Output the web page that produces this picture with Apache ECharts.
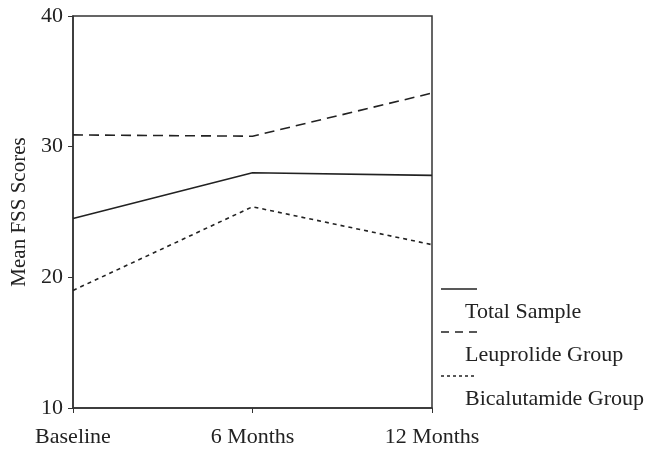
<!DOCTYPE html>
<html><head><meta charset="utf-8">
<script src="https://cdn.jsdelivr.net/npm/echarts@6/dist/echarts.min.js"></script>
<style>html,body{margin:0;padding:0;background:#fff}#c{width:652px;height:450px}</style>
</head><body><div id="c"></div>
<script>
const categories = ['Baseline', '6 Months', '12 Months'];
const totalSample = [24.5, 28.0, 27.8];
const leuprolide = [30.9, 30.8, 34.1];
const bicalutamide = [19.0, 25.4, 22.5];
const seriesNames = ['Total Sample', 'Leuprolide Group', 'Bicalutamide Group'];
const yTicks = [10, 20, 30, 40];

const font = '"Liberation Serif", "DejaVu Serif", serif';
const axisColor = '#333';
const chart = echarts.init(document.getElementById('c'));

function legendItem(i, y, dash) {
  return [
    { type: 'line', shape: { x1: 441, y1: y, x2: 477, y2: y },
      style: { stroke: '#222', lineWidth: 1.5, lineDash: dash } },
    { type: 'text', left: 465, top: y + 12,
      style: { text: seriesNames[i], font: '22px ' + font, fill: '#222' } }
  ];
}

chart.setOption({
  animation: false,
  grid: { left: 73, right: 220, top: 16, bottom: 42, show: true, borderColor: axisColor, borderWidth: 1.5,
          containLabel: false, outerBoundsMode: 'none' },
  xAxis: {
    type: 'category', data: categories, boundaryGap: false,
    axisLine: { lineStyle: { color: axisColor, width: 1.5 } },
    axisTick: { length: 5, lineStyle: { color: axisColor } },
    axisLabel: { color: '#222', fontFamily: font, fontSize: 22, margin: 18 },
    splitLine: { show: false }
  },
  yAxis: {
    type: 'value', min: yTicks[0], max: yTicks[yTicks.length - 1], interval: 10,
    name: 'Mean FSS Scores', nameLocation: 'middle', nameGap: 43,
    nameTextStyle: { color: '#222', fontFamily: font, fontSize: 21 },
    axisLine: { show: true, lineStyle: { color: axisColor, width: 1.5 } },
    axisTick: { show: true, length: 5, lineStyle: { color: axisColor } },
    axisLabel: { color: '#222', fontFamily: font, fontSize: 22, margin: 10 },
    splitLine: { show: false }
  },
  series: [
    { name: seriesNames[0], type: 'line', data: totalSample, showSymbol: false,
      lineStyle: { color: '#222', width: 1.6, type: 'solid' } },
    { name: seriesNames[1], type: 'line', data: leuprolide, showSymbol: false,
      lineStyle: { color: '#222', width: 1.6, type: [10, 6] } },
    { name: seriesNames[2], type: 'line', data: bicalutamide, showSymbol: false,
      lineStyle: { color: '#222', width: 1.6, type: [4, 4] } }
  ],
  graphic: [].concat(
    legendItem(0, 289, null),
    legendItem(1, 332, [8, 6]),
    legendItem(2, 376, [3, 3])
  )
});
</script></body></html>
